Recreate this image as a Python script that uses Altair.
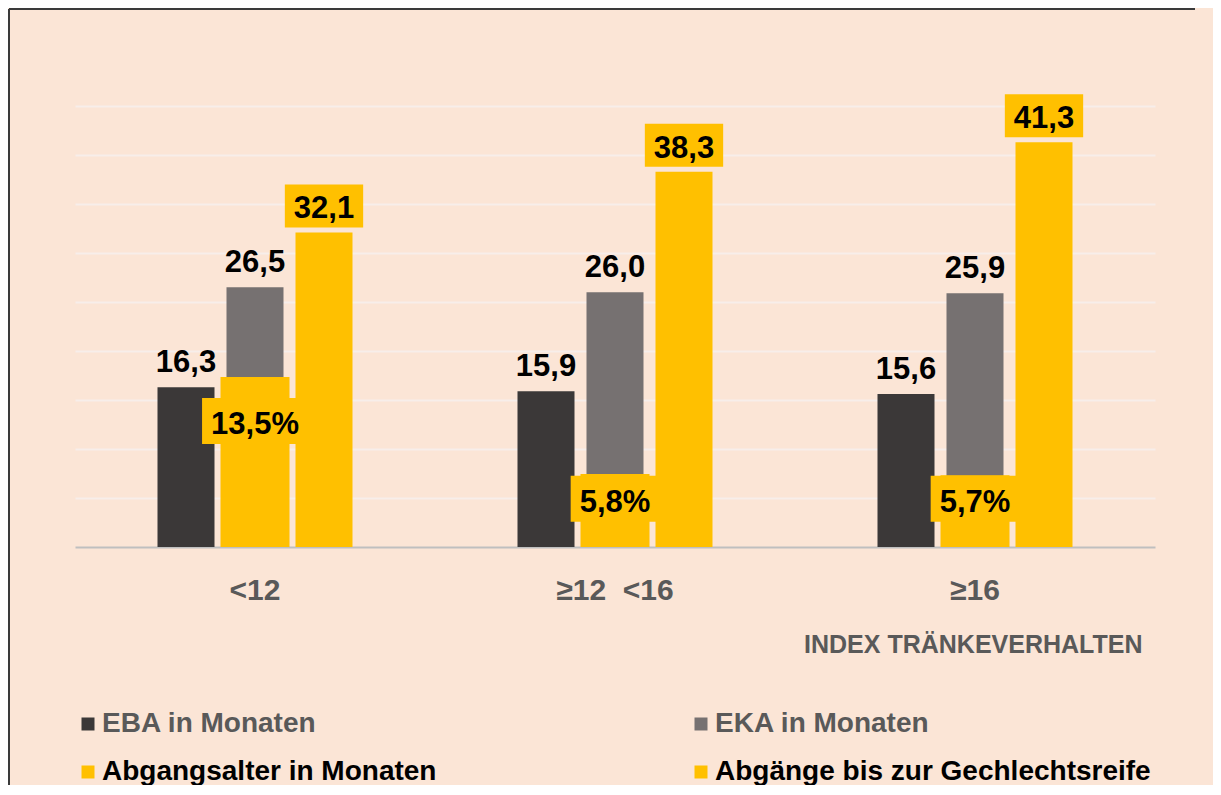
import altair as alt
import pandas as pd

# ---- data ----
groups = ["<12", "≥12\u00a0\u00a0<16", "≥16"]
series_names = ["EBA in Monaten", "EKA in Monaten",
                "Abgangsalter in Monaten", "Abgänge bis zur Gechlechtsreife"]
eba = [16.3, 15.9, 15.6]
eka = [26.5, 26.0, 25.9]
abgangsalter = [32.1, 38.3, 41.3]
abgaenge_pct = [13.5, 5.8, 5.7]
colors = ["#3B3838", "#767171", "#FFC000", "#FFC000"]

rows = []
for s, vals in zip(series_names[:3], [eba, eka, abgangsalter]):
    for g, v in zip(groups, vals):
        rows.append({"group": g, "series": s, "value": v})
prim = pd.DataFrame(rows)
pct = pd.DataFrame({"group": groups, "series": series_names[3], "pct": abgaenge_pct})

FONT = "Liberation Sans"
GOLD = "#FFC000"
LFS = 31  # data label font size
LBL = "replace(format(datum.value, '.1f'), '.', ',')"
WIDTH_EXPR = (f"{LFS}*(0.556*(length(datum.lbl)-1-(indexof(datum.lbl,'%')>=0?1:0)) + 0.278"
              " + (indexof(datum.lbl,'%')>=0?0.889:0)) + 18")

x = alt.X(
    "group:N", sort=groups,
    scale=alt.Scale(domain=groups, paddingInner=0.425, paddingOuter=0.2125),
    axis=alt.Axis(
        labelFont=FONT, labelFontSize=30, labelFontWeight="bold", labelColor="#595959",
        labelAngle=0, labelBaseline="alphabetic", labelPadding=52,
        ticks=False, tickSize=0, domainColor="#BFBFBF", domainWidth=2,
        title="INDEX TRÄNKEVERHALTEN", titleFont=FONT, titleFontSize=25,
        titleFontWeight="bold", titleColor="#595959", titleAlign="right",
        titleBaseline="alphabetic", titleX=1067, titleY=105,
    ),
)
xoff = alt.XOffset(
    "series:N", sort=series_names[:3],
    scale=alt.Scale(domain=series_names[:3], paddingInner=0.174, paddingOuter=0.087),
)
color = alt.Color(
    "series:N", sort=series_names,
    scale=alt.Scale(domain=series_names, range=colors),
    legend=alt.Legend(
        orient="none", legendX=-1, legendY=604, columns=2, direction="horizontal",
        title=None, symbolType="square", symbolSize=169, symbolStrokeWidth=0,
        labelFont=FONT, labelFontSize=28, labelFontWeight="bold",
        labelColor=alt.ExprRef(expr="(datum.label === 'EBA in Monaten' || datum.label === 'EKA in Monaten') ? '#595959' : '#000000'"),
        labelLimit=800, labelOffset=0, rowPadding=20, columnPadding=250, padding=0,
    ),
)
yA = alt.Y(
    "value:Q", scale=alt.Scale(domain=[0, 45], nice=False),
    axis=alt.Axis(values=list(range(5, 50, 5)), grid=True, labels=False, ticks=False,
                  domain=False, title=None, gridColor="#F7EEEA", gridWidth=2),
)

baseA = alt.Chart(prim).encode(x=x, xOffset=xoff).transform_calculate(lbl=LBL)

barsA = baseA.mark_bar().encode(y=yA, color=color)
txt_dark = baseA.transform_filter(
    "datum.series !== 'Abgangsalter in Monaten'"
).mark_text(
    dy=-15, baseline="alphabetic", font=FONT, fontSize=LFS, fontWeight="bold", color="#000000"
).encode(y=yA, text="lbl:N")

abg = baseA.transform_filter("datum.series === 'Abgangsalter in Monaten'").transform_calculate(
    w=WIDTH_EXPR
)
abg_box = abg.mark_bar(color=GOLD, yOffset=-48, y2Offset=-5).encode(
    y=yA, y2="value:Q", size=alt.Size("w:Q", scale=None, legend=None)
)
abg_txt = abg.mark_text(
    dy=-14, baseline="alphabetic", font=FONT, fontSize=LFS, fontWeight="bold", color="#000000"
).encode(y=yA, text="lbl:N")

layerA = alt.layer(barsA, txt_dark, abg_box, abg_txt)

# secondary (hidden) axis for the percentage series
yB = alt.Y("pct:Q", scale=alt.Scale(domain=[0, 35], nice=False), axis=None)
yBl = alt.Y("lpos:Q", scale=alt.Scale(domain=[0, 35], nice=False), axis=None)

baseB = alt.Chart(pct).encode(x=x).transform_calculate(
    lbl="replace(format(datum.pct, '.1f'), '.', ',') + '%'",
    lpos="max(datum.pct - 1.67, 5.65)",
).transform_calculate(w=WIDTH_EXPR)

pct_bar = baseB.mark_bar(width=69).encode(y=yB, color=color)
pct_box = baseB.mark_bar(color=GOLD, y2Offset=46).encode(
    y=yBl, y2="lpos:Q", size=alt.Size("w:Q", scale=None, legend=None)
)
pct_txt = baseB.mark_text(
    dy=36, baseline="alphabetic", font=FONT, fontSize=LFS, fontWeight="bold", color="#000000"
).encode(y=yBl, text="lbl:N")

layerB = alt.layer(pct_bar, pct_box, pct_txt)

frame = pd.DataFrame({"k": [0]})
border_left = alt.Chart(frame).mark_rule(color="#3A3A3A", strokeWidth=2).encode(
    x=alt.value(-66), y=alt.value(-97), y2=alt.value(680)
)
border_top = alt.Chart(frame).mark_rule(color="#3A3A3A", strokeWidth=2).encode(
    x=alt.value(-66), x2=alt.value(1120), y=alt.value(-97)
)

chart = alt.layer(layerA, layerB, border_left, border_top).resolve_scale(
    y="independent"
).properties(
    width=1080, height=441,
    autosize=alt.AutoSizeParams(type="none"),
    padding={"left": 67, "top": 98, "right": 58, "bottom": 238},
    background="#FBE5D6",
).configure_view(stroke=None)

chart.save("out.html", embed_options={"renderer": "svg", "actions": False})
